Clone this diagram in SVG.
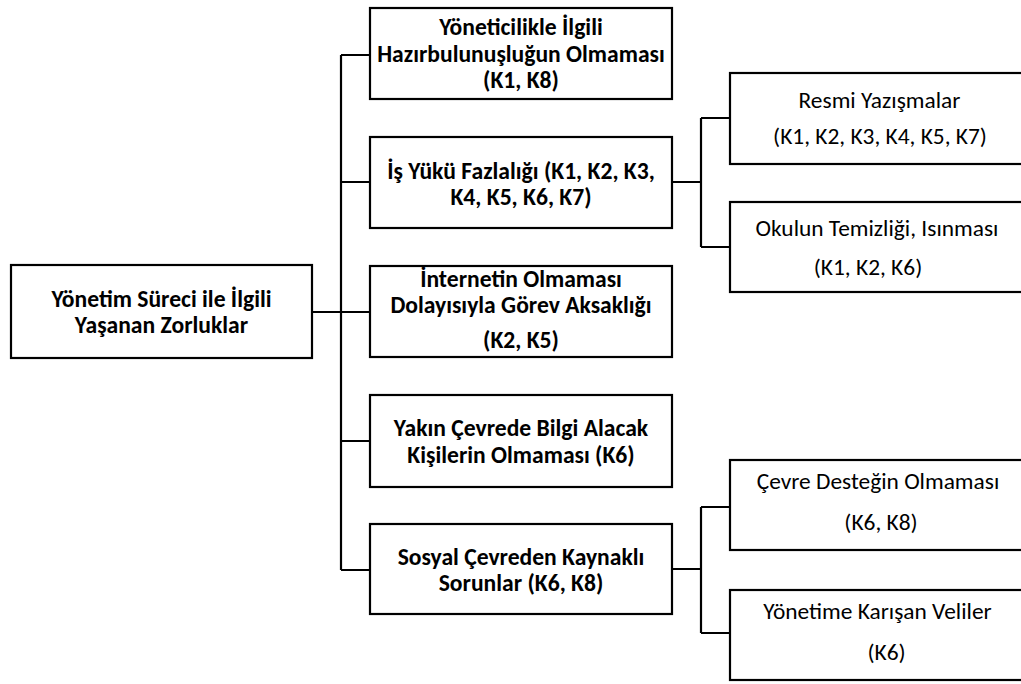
<svg xmlns="http://www.w3.org/2000/svg" width="1021" height="684" viewBox="0 0 1021 684">
  <style>
    .box { fill: #ffffff; stroke: #000000; stroke-width: 2.2; }
    .link { fill: none; stroke: #000000; stroke-width: 2.2; }
    .b { font-family: Carlito, Lato, "Open Sans", sans-serif; font-weight: bold; font-size: 23.6px; fill: #000000; text-anchor: middle; }
    .r { font-family: Carlito, Lato, "Open Sans", sans-serif; font-size: 23.4px; fill: #000000; text-anchor: middle; }
  </style>
  <rect width="1021" height="684" fill="#ffffff"/>

  <!-- tree connectors -->
  <g id="connectors">
    <path class="link" d="M312 312 H370"/>
    <path class="link" d="M341 55 V570"/>
    <path class="link" d="M341 55 H370 M341 182 H370 M341 441 H370 M341 570 H370"/>
    <path class="link" d="M672 182 H701 M701 118 V247 M701 118 H730 M701 247 H730"/>
    <path class="link" d="M672 569 H701 M701 507 V633 M701 507 H730 M701 633 H730"/>
  </g>

  <g id="root">
    <rect class="box" x="11" y="265" width="301" height="93"/>
    <text class="b" x="161.5" y="307">Yönetim Süreci ile İlgili</text>
    <text class="b" x="161.5" y="333">Yaşanan Zorluklar</text>
  </g>

  <g id="hazirbulunusluk">
    <rect class="box" x="370" y="8" width="302" height="91"/>
    <text class="b" x="521" y="35">Yöneticilikle İlgili</text>
    <text class="b" x="521" y="62">Hazırbulunuşluğun Olmaması</text>
    <text class="b" x="521" y="88">(K1, K8)</text>
  </g>

  <g id="is-yuku">
    <rect class="box" x="370" y="137" width="302" height="91"/>
    <text class="b" x="521" y="179">İş Yükü Fazlalığı (K1, K2, K3,</text>
    <text class="b" x="521" y="205">K4, K5, K6, K7)</text>
  </g>

  <g id="internet">
    <rect class="box" x="370" y="266" width="302" height="91"/>
    <text class="b" x="521" y="287">İnternetin Olmaması</text>
    <text class="b" x="521" y="313">Dolayısıyla Görev Aksaklığı</text>
    <text class="b" x="521" y="348">(K2, K5)</text>
  </g>

  <g id="bilgi">
    <rect class="box" x="370" y="395" width="302" height="92"/>
    <text class="b" x="521" y="436">Yakın Çevrede Bilgi Alacak</text>
    <text class="b" x="521" y="463">Kişilerin Olmaması (K6)</text>
  </g>

  <g id="sosyal-cevre">
    <rect class="box" x="370" y="524" width="302" height="90"/>
    <text class="b" x="521" y="565">Sosyal Çevreden Kaynaklı</text>
    <text class="b" x="521" y="591">Sorunlar (K6, K8)</text>
  </g>

  <g id="resmi-yazismalar">
    <rect class="box" x="730" y="73" width="300" height="91"/>
    <text class="r" x="879.5" y="108">Resmi Yazışmalar</text>
    <text class="r" x="880" y="144">(K1, K2, K3, K4, K5, K7)</text>
  </g>

  <g id="temizlik">
    <rect class="box" x="730" y="202" width="300" height="90"/>
    <text class="r" x="877" y="236">Okulun Temizliği, Isınması</text>
    <text class="r" x="868" y="275">(K1, K2, K6)</text>
  </g>

  <g id="cevre-destegi">
    <rect class="box" x="730" y="460" width="300" height="90"/>
    <text class="r" x="878" y="489">Çevre Desteğin Olmaması</text>
    <text class="r" x="881" y="530">(K6, K8)</text>
  </g>

  <g id="veliler">
    <rect class="box" x="730" y="590" width="300" height="90"/>
    <text class="r" x="877.5" y="619">Yönetime Karışan Veliler</text>
    <text class="r" x="886.5" y="660">(K6)</text>
  </g>
</svg>
